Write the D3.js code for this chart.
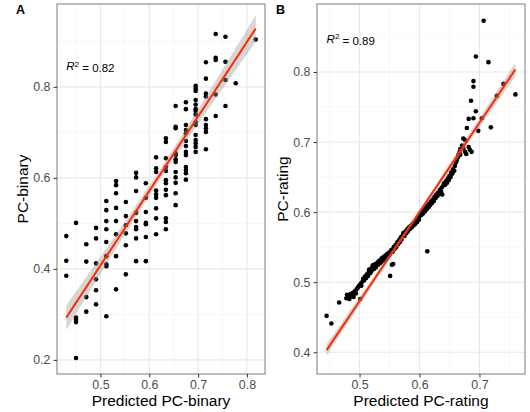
<!DOCTYPE html>
<html>
<head>
<meta charset="utf-8">
<script src="https://cdn.jsdelivr.net/npm/d3@7"></script>
<style>
  body { margin: 0; background: #fff; }
  text { font-family: "Liberation Sans", Arial, sans-serif; }
</style>
</head>
<body>
<div id="chart"></div>
<script>
// Panel A: predicted PC-binary comes in discrete columns, observed values per column
const predictedColsA = [0.430, 0.450, 0.471, 0.491, 0.512, 0.532, 0.552, 0.573, 0.593, 0.614,
                        0.634, 0.654, 0.675, 0.695, 0.716, 0.736, 0.756, 0.777, 0.818];
const binaryByColA = [
  [0.472, 0.418, 0.385],
  [0.501, 0.293, 0.288, 0.283, 0.204],
  [0.454, 0.416, 0.338, 0.306],
  [0.490, 0.467, 0.412, 0.377, 0.353, 0.322],
  [0.549, 0.529, 0.505, 0.487, 0.459, 0.428, 0.410, 0.406, 0.296],
  [0.593, 0.584, 0.566, 0.534, 0.505, 0.476, 0.428, 0.355],
  [0.547, 0.516, 0.496, 0.478, 0.452, 0.388],
  [0.611, 0.601, 0.571, 0.523, 0.505, 0.492, 0.487, 0.467, 0.417],
  [0.588, 0.556, 0.525, 0.501, 0.498, 0.470, 0.417],
  [0.645, 0.621, 0.613, 0.572, 0.564, 0.556, 0.533, 0.511, 0.476],
  [0.687, 0.679, 0.643, 0.624, 0.615, 0.595, 0.588, 0.574, 0.562, 0.511, 0.503, 0.487],
  [0.758, 0.712, 0.709, 0.654, 0.650, 0.641, 0.635, 0.613, 0.601, 0.589, 0.566, 0.540],
  [0.766, 0.751, 0.716, 0.705, 0.698, 0.681, 0.670, 0.657, 0.650, 0.624, 0.617, 0.610, 0.596],
  [0.802, 0.796, 0.791, 0.771, 0.761, 0.751, 0.747, 0.739, 0.722, 0.716, 0.694, 0.683, 0.676, 0.668, 0.657],
  [0.854, 0.818, 0.785, 0.779, 0.729, 0.716, 0.709, 0.701, 0.663],
  [0.916, 0.864, 0.859, 0.783, 0.736],
  [0.910, 0.855, 0.815, 0.758],
  [0.808],
  [0.904]
];

// Panel B: [predicted PC-rating, PC-rating]
const pointsB = [
  [0.445,0.452],[0.453,0.441],[0.466,0.471],
  [0.478,0.477],[0.479,0.482],[0.482,0.480],[0.483,0.476],[0.485,0.483],[0.487,0.480],[0.489,0.485],
  [0.490,0.479],[0.492,0.487],[0.494,0.484],[0.495,0.490],[0.497,0.492],[0.499,0.495],[0.501,0.476],
  [0.502,0.498],[0.503,0.495],[0.505,0.501],[0.506,0.505],[0.508,0.503],[0.509,0.508],[0.511,0.506],
  [0.512,0.511],[0.514,0.509],[0.515,0.514],[0.516,0.518],[0.518,0.513],[0.519,0.519],[0.520,0.516],
  [0.521,0.521],[0.522,0.524],[0.524,0.519],[0.525,0.522],[0.526,0.526],[0.527,0.521],[0.528,0.524],
  [0.530,0.528],[0.531,0.525],[0.532,0.530],[0.534,0.527],[0.535,0.532],[0.536,0.529],[0.537,0.534],
  [0.539,0.531],[0.540,0.536],[0.541,0.533],[0.543,0.538],[0.544,0.535],[0.546,0.540],[0.547,0.537],
  [0.549,0.542],[0.550,0.539],[0.551,0.509],[0.552,0.544],[0.553,0.546],[0.554,0.525],[0.555,0.543],
  [0.556,0.526],[0.557,0.550],[0.558,0.547],[0.560,0.553],[0.561,0.550],[0.563,0.557],[0.564,0.554],
  [0.566,0.560],[0.567,0.557],[0.569,0.564],[0.570,0.561],[0.572,0.567],[0.573,0.570],[0.575,0.566],
  [0.576,0.572],[0.578,0.570],[0.579,0.575],[0.581,0.573],[0.582,0.578],[0.584,0.576],[0.585,0.580],
  [0.587,0.578],[0.588,0.583],[0.590,0.581],[0.591,0.585],[0.593,0.583],[0.594,0.588],[0.596,0.586],
  [0.597,0.591],[0.599,0.589],[0.600,0.594],[0.601,0.598],[0.603,0.596],[0.604,0.600],[0.606,0.598],
  [0.607,0.603],[0.609,0.601],[0.610,0.606],[0.612,0.604],[0.613,0.544],[0.613,0.609],[0.615,0.607],
  [0.616,0.612],[0.618,0.610],[0.619,0.615],[0.621,0.613],[0.622,0.618],[0.624,0.616],[0.625,0.622],
  [0.627,0.620],[0.628,0.625],[0.630,0.623],[0.631,0.628],[0.633,0.626],[0.634,0.632],[0.636,0.629],
  [0.637,0.635],[0.638,0.625],[0.640,0.638],[0.641,0.641],[0.643,0.639],[0.644,0.644],[0.646,0.642],
  [0.647,0.648],[0.649,0.646],[0.650,0.652],[0.652,0.650],[0.653,0.657],[0.655,0.655],[0.656,0.661],
  [0.658,0.659],[0.659,0.666],[0.661,0.671],[0.662,0.674],[0.664,0.678],[0.665,0.682],[0.667,0.686],
  [0.668,0.690],[0.668,0.682],[0.671,0.695],[0.673,0.691],[0.673,0.705],[0.676,0.703],[0.676,0.686],
  [0.678,0.683],[0.679,0.720],[0.682,0.693],[0.682,0.733],[0.684,0.689],[0.686,0.759],[0.687,0.686],
  [0.690,0.787],[0.690,0.779],[0.690,0.734],[0.694,0.744],[0.694,0.822],[0.698,0.716],[0.704,0.734],
  [0.707,0.873],[0.715,0.814],[0.719,0.721],[0.729,0.766],[0.740,0.783],[0.760,0.768]
];

// fitted lines: [intercept, slope]
const fitA = [-0.411, 1.637];
const fitB = [-0.163, 1.272];

// tick values and labels
const xTicksA = [0.5, 0.6, 0.7, 0.8];
const yTicksA = [0.2, 0.4, 0.6, 0.8];
const xTicksB = [0.5, 0.6, 0.7];
const yTicksB = [0.4, 0.5, 0.6, 0.7, 0.8];
const r2Labels = ["0.82", "0.89"];

const pointsA = predictedColsA.flatMap((x, i) => binaryByColA[i].map(y => [x, y]));

const svg = d3.select("#chart")
  .append("svg")
    .attr("width", 530)
    .attr("height", 412);

svg.append("rect").attr("width", 530).attr("height", 412).attr("fill", "#fff");

// line with 95% confidence band, band width from the residuals of the points
function fitLine(pts, coef) {
  const n = pts.length;
  const [a, b] = coef;
  const mx = d3.mean(pts, d => d[0]);
  const sxx = d3.sum(pts, d => (d[0] - mx) ** 2);
  const s = Math.sqrt(d3.sum(pts, d => (d[1] - a - b * d[0]) ** 2) / (n - 2));
  const t = 1.976;
  const [x0, x1] = d3.extent(pts, d => d[0]);
  return d3.range(81).map(i => {
    const x = x0 + (x1 - x0) * i / 80;
    const yh = a + b * x;
    const se = s * Math.sqrt(1 / n + (x - mx) ** 2 / sxx);
    return { x: x, y: yh, lo: yh - t * se, hi: yh + t * se };
  });
}

function drawPanel(o) {
  const g = svg.append("g");
  const x = o.x, y = o.y;
  const [left, right] = x.range();
  const [bottom, top] = y.range();

  g.append("rect")
    .attr("x", left).attr("y", top)
    .attr("width", right - left).attr("height", bottom - top)
    .attr("fill", "#fff");

  // minor grid
  g.selectAll(".minx").data(o.minorX).join("line")
    .attr("x1", d => x(d)).attr("x2", d => x(d))
    .attr("y1", top).attr("y2", bottom)
    .attr("stroke", "#f2f2f2").attr("stroke-width", 0.6);
  g.selectAll(".miny").data(o.minorY).join("line")
    .attr("x1", left).attr("x2", right)
    .attr("y1", d => y(d)).attr("y2", d => y(d))
    .attr("stroke", "#f2f2f2").attr("stroke-width", 0.6);

  // major grid
  g.selectAll(".majx").data(o.xTicks).join("line")
    .attr("x1", d => x(d)).attr("x2", d => x(d))
    .attr("y1", top).attr("y2", bottom)
    .attr("stroke", "#e8e8e8").attr("stroke-width", 1.1);
  g.selectAll(".majy").data(o.yTicks).join("line")
    .attr("x1", left).attr("x2", right)
    .attr("y1", d => y(d)).attr("y2", d => y(d))
    .attr("stroke", "#e8e8e8").attr("stroke-width", 1.1);

  // points
  g.selectAll("circle").data(o.points).join("circle")
    .attr("cx", d => x(d[0]))
    .attr("cy", d => y(d[1]))
    .attr("r", 2.3)
    .attr("fill", "#000");

  // regression ribbon and line
  const fit = fitLine(o.points, o.coef);
  g.append("path")
    .datum(fit)
    .attr("fill", "#999")
    .attr("fill-opacity", 0.4)
    .attr("d", d3.area().x(d => x(d.x)).y0(d => y(d.lo)).y1(d => y(d.hi)));
  g.append("path")
    .datum(fit)
    .attr("fill", "none")
    .attr("stroke", "#ff2a00")
    .attr("stroke-width", 2)
    .attr("d", d3.line().x(d => x(d.x)).y(d => y(d.y)));

  // border
  g.append("rect")
    .attr("x", left).attr("y", top)
    .attr("width", right - left).attr("height", bottom - top)
    .attr("fill", "none")
    .attr("stroke", "#7a7a7a")
    .attr("stroke-width", 1);

  // axes
  const ax = g.append("g")
    .attr("transform", `translate(0,${bottom})`)
    .call(d3.axisBottom(x).tickValues(o.xTicks).tickFormat(d3.format(".1f")).tickSize(3.5).tickPadding(3));
  const ay = g.append("g")
    .attr("transform", `translate(${left},0)`)
    .call(d3.axisLeft(y).tickValues(o.yTicks).tickFormat(d3.format(".1f")).tickSize(3.5).tickPadding(3));
  [ax, ay].forEach(a => {
    a.select(".domain").remove();
    a.selectAll("line").attr("stroke", "#333");
    a.selectAll("text").attr("fill", "#4d4d4d").style("font-size", "12.4px")
      .style("font-family", "'Liberation Sans', Arial, sans-serif");
  });

  // axis titles
  g.append("text")
    .attr("x", (left + right) / 2)
    .attr("y", 406)
    .attr("text-anchor", "middle")
    .style("font-size", "15.5px")
    .text(o.xTitle);
  g.append("text")
    .attr("transform", `translate(${left - 29},${(top + bottom) / 2}) rotate(-90)`)
    .attr("text-anchor", "middle")
    .style("font-size", "15.5px")
    .text(o.yTitle);

  // panel tag
  g.append("text")
    .attr("x", o.tagX)
    .attr("y", 14)
    .style("font-size", "12.5px")
    .style("font-weight", "bold")
    .text(o.tag);

  // R^2 annotation
  const lab = g.append("text")
    .attr("x", x(d3.min(o.points, d => d[0])))
    .attr("y", y(o.r2y))
    .attr("dy", "0.35em")
    .style("font-size", "11.5px");
  lab.append("tspan").style("font-style", "italic").text("R");
  lab.append("tspan").attr("dy", "-0.45em").style("font-size", "8px").text("2");
  lab.append("tspan").attr("dy", "0.45em").text(" = " + o.r2);
}

drawPanel({
  points: pointsA, coef: fitA,
  x: d3.scaleLinear().domain([0.411, 0.837]).range([57, 265]),
  y: d3.scaleLinear().domain([0.169, 0.982]).range([374, 4]),
  xTicks: xTicksA, yTicks: yTicksA,
  minorX: [0.45, 0.55, 0.65, 0.75],
  minorY: [0.3, 0.5, 0.7, 0.9],
  xTitle: "Predicted PC-binary", yTitle: "PC-binary",
  tag: "A", tagX: 16,
  r2: r2Labels[0], r2y: 0.845
});

drawPanel({
  points: pointsB, coef: fitB,
  x: d3.scaleLinear().domain([0.429, 0.776]).range([317, 525]),
  y: d3.scaleLinear().domain([0.369, 0.897]).range([374, 4]),
  xTicks: xTicksB, yTicks: yTicksB,
  minorX: [0.45, 0.55, 0.65, 0.75],
  minorY: [0.45, 0.55, 0.65, 0.75, 0.85],
  xTitle: "Predicted PC-rating", yTitle: "PC-rating",
  tag: "B", tagX: 276,
  r2: r2Labels[1], r2y: 0.847
});
</script>
</body>
</html>
